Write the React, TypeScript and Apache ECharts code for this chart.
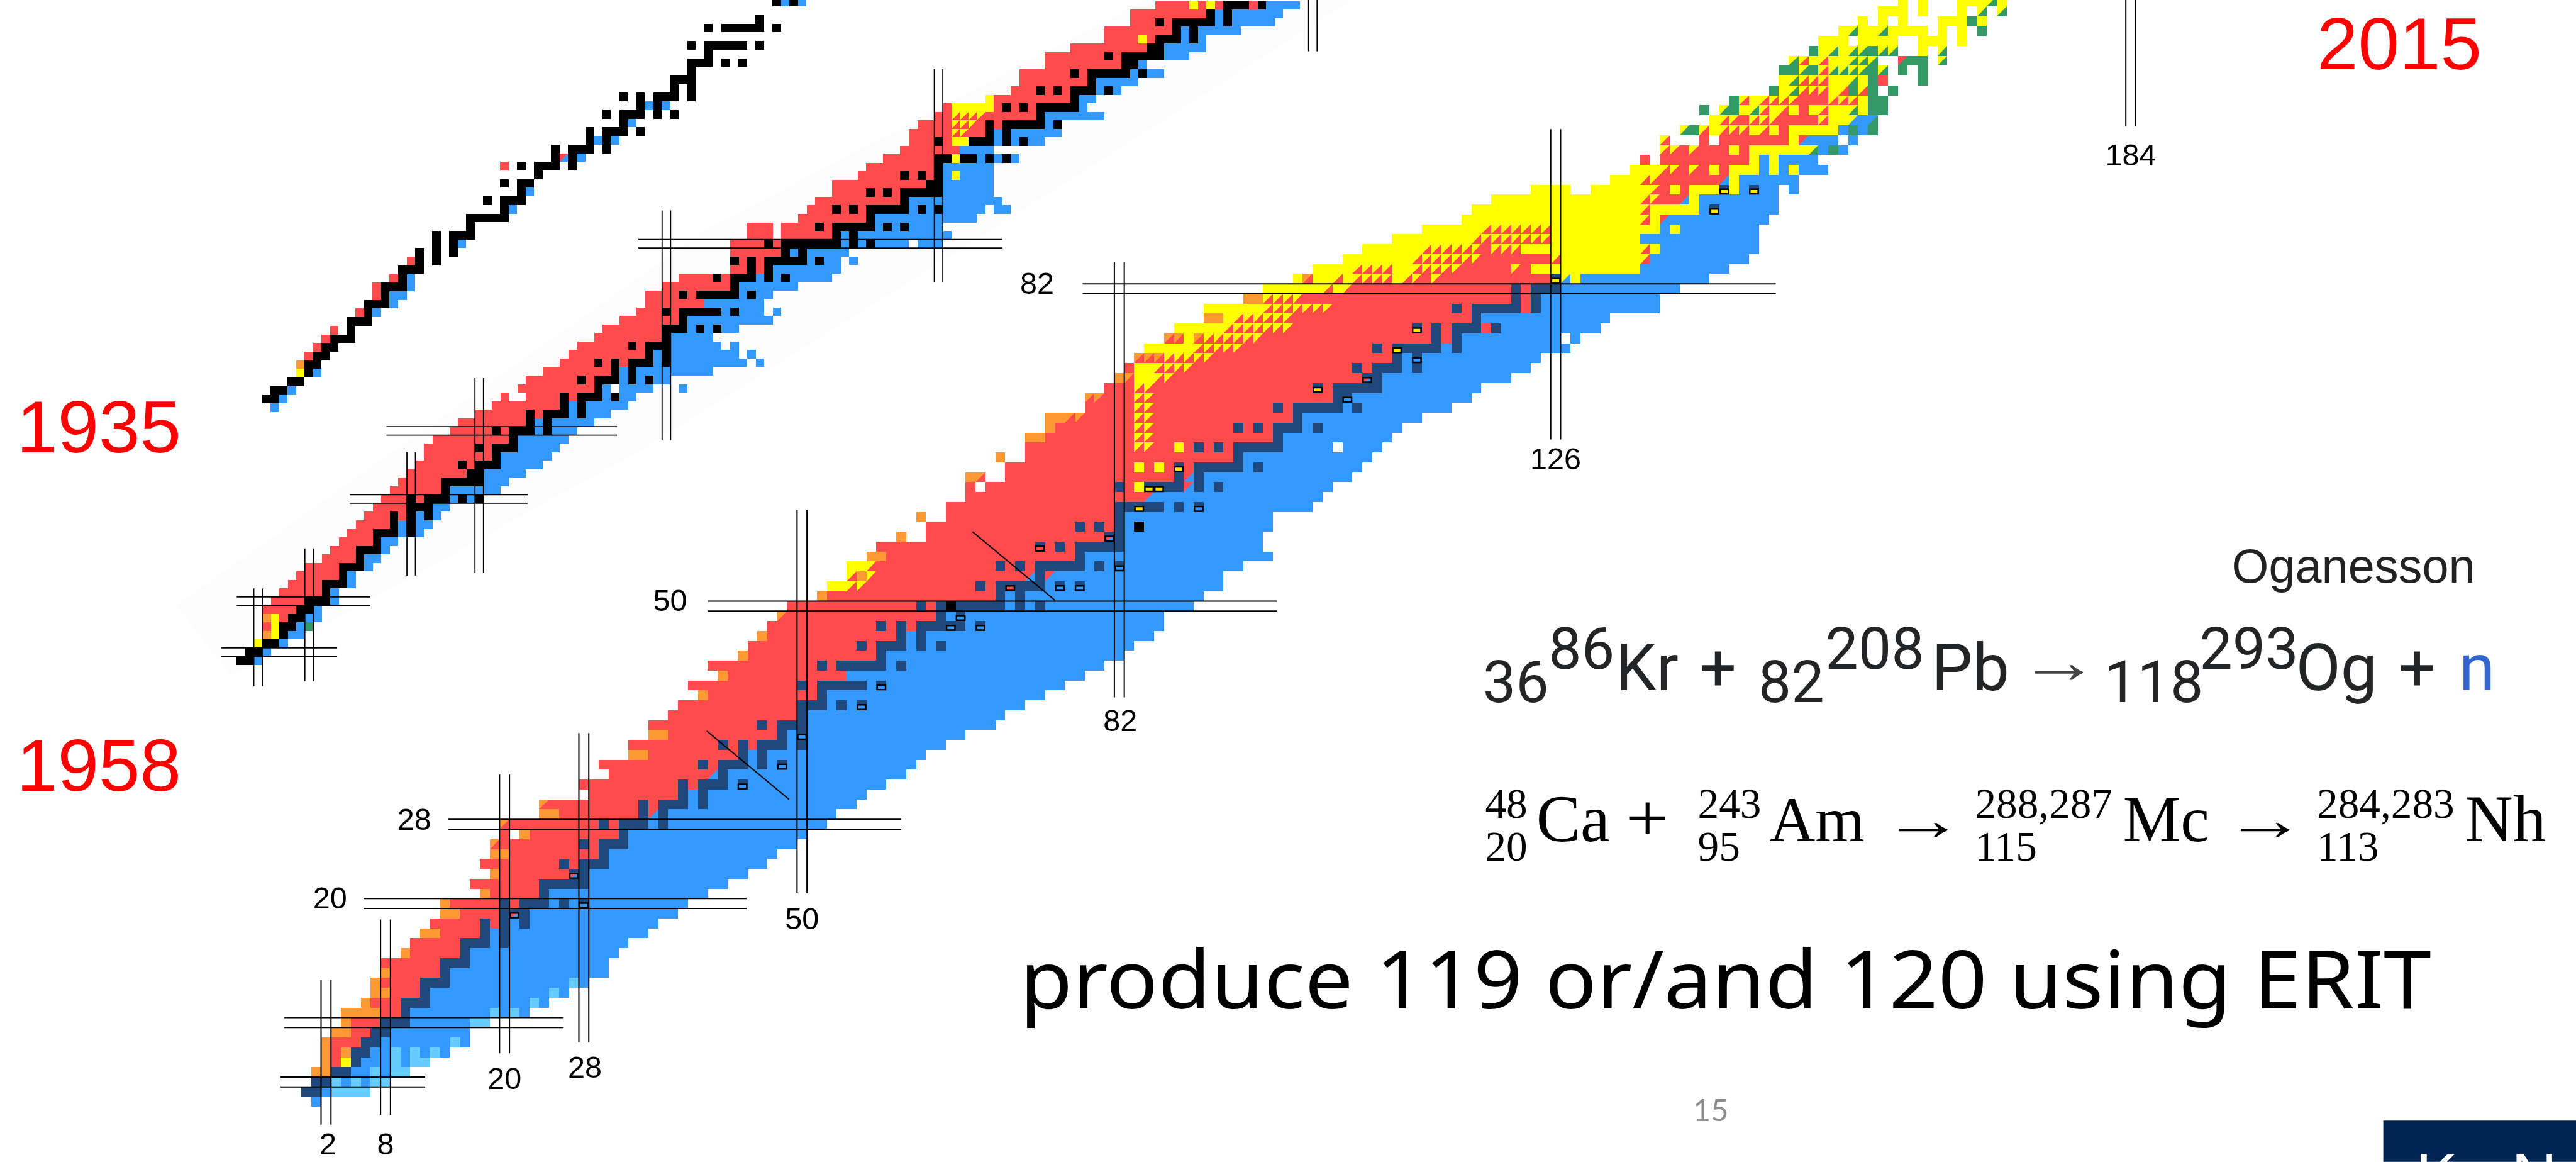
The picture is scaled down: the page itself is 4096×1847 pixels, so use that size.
import React, { useEffect, useRef } from "react";
import * as echarts from "echarts";

const W = 4096;
const H = 1847;
const S = 4096 / 4385;
const REF_W = 4385;
const REF_H = 1977;

// Colours of the nuclide classes
const COLORS: Record<string, string> = {
  r: "#FF4B4B", b: "#3399FF", d: "#1F497D", o: "#FF9933", y: "#FFFF00",
  l: "#66CCFF", g: "#339966", k: "#000000", x: "#FFE800",
};

// Chart of nuclides, Z rows as "<class><N from>-<N to>"; two letters = split cell
const rows2015: [number, string][] = [
  [0, "b1"], [1, "b2 l3-6"], [2, "l3 b4 l5 b6 l7-8"], [3, "o1-2 b5-6 l7 b8 l9-10"],
  [4, "o2 r3 y4 b6-8 l9 b10 l11-12"], [5, "o2 r3 o4 b7-8 l9 b10 l11 b12 l13 b14"],
  [6, "o2 r3-5 b8-14 l15 b16"], [7, "o3-4 r5-6 b9-16"], [8, "o4 r5-7 b11-16 l17-18"],
  [9, "o4-7 r8-9 b11-18 l19 b20 l21 b22"], [10, "o6 r7-9 b13-22 l23 b24"],
  [11, "o7-8 r9-11 b13-24 l25 b26"], [12, "o7 r8-11 b15-26 l27 b28"], [13, "o8 r9-13 b15-30"],
  [14, "r8-13 b17-30"], [15, "o10 r11-15 b17-31"], [16, "r11-15 b19 b21-32"],
  [17, "o12-13 r14-17 b19 b21-34"], [18, "r13-17 r19 b21 b23-35"], [19, "o14-15 r16-19 b23-37"],
  [20, "o14 r15-19 r21 b25 b27-38"], [21, "o18 r19-23 b25-40"], [22, "r17-23 b29-42"],
  [23, "o19 r20-26 b29-44"], [24, "r18-25 r27 b31-46"], [25, "o19-20 r21-29 b31-47"],
  [26, "or19 r20-27 r29 b33-49"], [27, "r20 o22 r23-31 b33-50"], [28, "or20 r21-29 r31 b35 b37-52"],
  [29, "o24-25 r26-33 rb35 b37-53"], [30, "or24 r25-33 r35 b39 b41-55"], [31, "r29-37 b39 b41-56"],
  [32, "r28-37 r39 b43 b45-58"], [33, "r31-40 rb41 b43-60"], [34, "r30-39 r41 b45 b47 b49-61"],
  [35, "o33-34 r35-43 b45 b47-62"], [36, "r33-41 r43 r45 b49 b51-64"], [37, "o35-36 r37-47 b49 b51-66"],
  [38, "r35-45 r47 b51-69"], [39, "r37-49 b51-70"], [40, "r38-49 b53 b55 b57-72"],
  [41, "o40 r41-51 b53-74"], [42, "r39-49 r51 b57 b59-76"], [43, "o42 r43-54 b55-78"],
  [44, "r41-51 r53 b59 b61-80"], [45, "o44 r45-57 b59-82"], [46, "r45-55 r57 b61 b63 b65-83"],
  [47, "o46 r47-59 b61 b63-85"], [48, "r47-57 r59 r61 b67 b69-86"], [49, "or48 r49-63 b65 b67-86"],
  [50, "r49-61 r63 b71 b73 b75-89"], [51, "o52 r53-69 b71 b73-90"],
  [52, "y53-54 yr55-56 r57-67 r69 b75 b77 b79-92"], [53, "yr55 o56 yr57 r58-72 rb73 rb75 b76-92"],
  [54, "y55-56 yr57 r58-69 r71 r73 b79 b81 b83-94"], [55, "o57-58 r59-77 b79-97"],
  [56, "r58-73 r75 r77 b83-96"], [57, "o60 r63-80 b83-96"], [58, "r63-77 r79 r81 b83-97"],
  [59, "o62 r65-81 b83-97"], [60, "r65-81 b87 b89 b91-101"], [61, "r67-84 rb85 b86-102"],
  [62, "r67 r69-81 r83 y84 rb89 b91 b93-103"], [63, "o67 or68 r71-87 rb89 b91-105"],
  [64, "r71-83 y84 r85 y86 r87 r89 b95 b97-106"], [65, "o70 r73-93 b95-107"],
  [66, "r73-83 yr84-85 r86-87 y88 r89 r91 r93 b99-103 b105-108"],
  [67, "o73-74 r75-83 yr84-85 r86-97 b99-109"], [68, "o75 r76-83 yr84-85 r86-93 r95 r97 b101 b103-110"],
  [69, "o75-76 or77-78 r79-83 yr84-85 r86-99 b101-112"], [70, "r79-83 yr84-85 r86-97 r99 b105 b107-115"],
  [71, "or79-80 r81-83 yr84-85 r86-103 b106-117"], [72, "r81-83 yr84-85 r86-101 r103 b109-118"],
  [73, "o82 or83 y84-85 yr86-87 r88-106 b109-121"], [74, "r83 y84-85 yr86-89 r90-105 r107 b111 b113-123"],
  [75, "or84-86 yr87-91 r92-109 b111 b113-124"], [76, "y85-89 yr90-94 r95-107 r109 b115 b117-127"],
  [77, "or87-88 y89 or90 yr91-96 r97-113 r115 b117-126 b128"],
  [78, "y88-92 yr93-99 r100-111 r113 r115 r119 b121-130"], [79, "o91-92 y93 yr94-99 r100-117 b119-131"],
  [80, "y91-96 yr97-103 r104-115 r117 r123 b125-136"], [81, "o95-96 yr97-100 r101-121 r123 b125-136"],
  [82, "y97-102 yr103 y104 yr105 r106-121 r123 b127-138"],
  [83, "y100 or101 y102-103 yr104 y105 yr106-109 y110 yr111-112 r113 yr114 r115-125 yb127 y128 b129-141"],
  [84, "y102-105 yr106-109 y110-111 yr112-116 r117-121 yr122 r123 y124-134 b135-143"],
  [85, "y105-111 yr112-118 r119-125 yr126 y127-134 yr135 b136-145"],
  [86, "y107-112 yr113-118 r119 yr120-122 y123-134 yr135 y136 b137-146"],
  [87, "y110-117 yr118-125 y126-134 b135-146"], [88, "y113-118 yr119-125 y126-136 b137 y138 b139-146"],
  [89, "y117-134 yr135 y136 rb137 b138-147"], [90, "y118-134 yr135 y136-140 b141-148"],
  [91, "y120-134 yr135-136 r137-138 rb139 y140 b141-148"],
  [92, "y124-127 y130-135 yr136 r137 y138 r139 y140-142 y144 b145 b147-148 b150"],
  [93, "y132-134 yr135-136 r137-142 rb143 y144 b145-150"],
  [94, "y134-136 yr137-138 r139 yr140 r141 y142 r143 y144-146 b147 y148 b149 y150 b151-153"],
  [95, "r135 r137-145 y146 b147 y148 b149-152"],
  [96, "yr137-138 r139 yr140 r141-143 y144 r145 y146-151 yg152 b153 g154 b155"],
  [97, "yr137 r141 r143-149 y150 rb151 b152-154 b156"],
  [98, "yg139 g140 yr141 y142 yr143-145 y146 yr147 y148 r149 y150-154 b155 g156 b157 g158"],
  [99, "y142 yr143-144 r145 yr146-148 r149-152 yr153 y154-155 yb156 b157 bg158"],
  [100, "g141 yg143 g144 y145 yg146 yr147 y148 yr149 y150 r151 y152 yr153 y154-155 yg156 y157 g158-159"],
  [101, "g144 yr145 y146 yr147-150 r151-153 yr154-156 y157 g158-159"],
  [102, "g148 y149 yg150 yr151-153 y154 yr155 g156 yr157 g158 g160"],
  [103, "y149 yg150 yr151-153 y154-155 yg156 y157 g158 r159 g163"],
  [104, "g149-150 yg151 g152 yr153 yg154-157 g158 yg159 g161 g163"],
  [105, "yg150 yr151 y152 yr153 y154-155 yg156-158 rg161 g162-163 yg165"],
  [106, "g152 y153 yg154 y155 yg156-157 g158 yg159-160 y163 yg165"],
  [107, "y153-155 y157-160 y163-165 y167"], [108, "y155 yg156 y157-158 yg159 y160-163 y165 y167 g169"],
  [109, "y157 y159 y161 y165-167 g168 y169"], [110, "y159-161 y163 y167 yg169 yg171"],
  [111, "y161 y163 y167-169 yg170 y171"],
];

// Stable nuclides: Z, neutron numbers
const stableRows: [number, number[]][] = [
  [1, [0, 1]], [2, [1, 2]], [3, [3, 4]], [4, [5]], [5, [5, 6]], [6, [6, 7]], [7, [7, 8]], [8, [8, 9, 10]],
  [9, [10]], [10, [10, 11, 12]], [11, [12]], [12, [12, 13, 14]], [13, [14]], [14, [14, 15, 16]], [15, [16]],
  [16, [16, 17, 18, 20]], [17, [18, 20]], [18, [18, 20, 22]], [19, [20, 21, 22]], [20, [20, 22, 23, 24, 26, 28]],
  [21, [24]], [22, [24, 25, 26, 27, 28]], [23, [27, 28]], [24, [26, 28, 29, 30]], [25, [30]], [26, [28, 30, 31, 32]],
  [27, [32]], [28, [30, 32, 33, 34, 36]], [29, [34, 36]], [30, [34, 36, 37, 38, 40]], [31, [38, 40]],
  [32, [38, 40, 41, 42, 44]], [33, [42]], [34, [40, 42, 43, 44, 46, 48]], [35, [44, 46]], [36, [42, 44, 46, 47, 48, 50]],
  [37, [48, 50]], [38, [46, 48, 49, 50]], [39, [50]], [40, [50, 51, 52, 54, 56]], [41, [52]],
  [42, [50, 52, 53, 54, 55, 56, 58]], [44, [52, 54, 55, 56, 57, 58, 60]], [45, [58]], [46, [56, 58, 59, 60, 62, 64]],
  [47, [60, 62]], [48, [58, 60, 62, 63, 64, 65, 66, 68]], [49, [64, 66]], [50, [62, 64, 65, 66, 67, 68, 69, 70, 72, 74]],
  [51, [70, 72]], [52, [68, 70, 71, 72, 73, 74, 76, 78]], [53, [74]], [54, [70, 72, 74, 75, 76, 77, 78, 80, 82]],
  [55, [78]], [56, [74, 76, 78, 79, 80, 81, 82]], [57, [81, 82]], [58, [78, 80, 82, 84]], [59, [82]],
  [60, [82, 83, 84, 85, 86, 88, 90]], [62, [82, 85, 86, 87, 88, 90, 92]], [63, [88, 90]], [64, [88, 90, 91, 92, 93, 94, 96]],
  [65, [94]], [66, [90, 92, 94, 95, 96, 97, 98]], [67, [98]], [68, [94, 96, 98, 99, 100, 102]], [69, [100]],
  [70, [98, 100, 101, 102, 103, 104, 106]], [71, [104, 105]], [72, [102, 104, 105, 106, 107, 108]], [73, [107, 108]],
  [74, [106, 108, 109, 110, 112]], [75, [110, 112]], [76, [108, 110, 111, 112, 113, 114, 116]], [77, [114, 116]],
  [78, [112, 114, 116, 117, 118, 120]], [79, [118]], [80, [116, 118, 119, 120, 121, 122, 124]], [81, [122, 124]],
  [82, [122, 124, 125, 126]], [83, [126]], [90, [142]], [92, [143, 146]],
];

const black2015: [number, string][] = [[50, "k65"], [58, "k84"]];

// Long-lived marked nuclides: N, Z, fill class
const boxes2015: [number, number, string][] = [
  [21, 19, "rb"], [28, 20, "b"], [27, 23, "rb"], [44, 32, "b"], [48, 34, "b"], [50, 37, "b"], [56, 40, "b"], [58, 42, "b"],
  [65, 48, "b"], [68, 48, "b"], [66, 49, "b"], [71, 52, "r"], [76, 52, "b"], [78, 52, "b"], [82, 54, "b"], [74, 56, "r"],
  [81, 57, "rb"], [84, 60, "x"], [90, 60, "b"], [85, 62, "x"], [86, 62, "x"], [88, 64, "x"], [105, 71, "b"], [102, 72, "x"],
  [107, 73, "rb"], [112, 75, "b"], [110, 76, "x"], [112, 78, "x"], [126, 83, "x"], [142, 90, "x"], [143, 92, "x"], [146, 92, "x"],
];

const rows1958: [number, string][] = [
  [1, "b2"], [2, "b3"], [3, "y2 b5"], [4, "o3 y4 b6-7"], [5, "r3 y4 b7 g8"], [6, "o3 y4 r5 b8-9"], [7, "r3-6 b9"], [8, "r4-7 b11"],
  [9, "r5-9 b11"], [10, "r6-9 b13"], [11, "r7-11 b13"], [12, "r8-11 b15"], [13, "r10-13 b15-16"], [14, "r11-13 b17"],
  [15, "r12-15 b17-18"], [16, "r13-15 b19 b21"], [17, "r14-17 b19 b21-22"], [18, "r15-17 r19 b21 b23"], [19, "r16-19 b23-24"],
  [20, "r17-19 r21 b25 b27-28"], [21, "r18-23 b25-30"], [22, "r19-23 b29-31"], [23, "r20-26 b29-33"], [24, "r21-25 r27 b31-35"],
  [25, "r22-29 b31-36"], [26, "r22-27 r29 b33-37"], [27, "r23-31 b33-38"], [28, "r25-29 r31 b35 b37-39"], [29, "r26-33 b35 b37-41"],
  [30, "r28-33 r35 b39 b41-43"], [31, "r30-37 b39 b41-45"], [32, "r31 r34-37 r39 b43 b45-46"], [33, "r33-41 b43 b45-48 b52"],
  [34, "r34-39 r41 b45 b47 b49-50"], [35, "r36-43 b45 b47-55"], [36, "r38-41 r43 r45 b49 b51-59 b61"], [37, "r39-47 b49 b51-58 b60"],
  [38, "r40-45 r47 b51-56 b58"], [39, "r42-49 b51-55"], [40, "r43-49 b53 b55 b57-58"], [41, "r45-51 b53-62"],
  [42, "r47-49 r51 b57 b59-61 b63"], [43, "r48-54 b55-61"], [44, "r48-51 r53 b59 b61-62"], [45, "r50-57 b59-65"],
  [46, "r52-55 r57 b61 b63 b65-69"], [47, "r58-59 r61 b63-70"], [48, "r59 r61 b67 b69-70 b72"], [49, "r58-63 b65 b67-71"],
  [50, "r58-61 r63 b71 b73 b75-78 b80-82"], [51, "r60-62 r64-69 b71 b73-83"], [52, "r60-62 r64-67 r69 b75 b77-82"],
  [53, "r66-73 b75-86"], [54, "r67-69 r71 r73 b79 b81 b83-87 b89-90"], [55, "r68-77 b79-89"], [56, "r70-73 r75 r77 b83-88"],
  [57, "r70-80 b83-88"], [58, "r73-77 r79 r81 b83 b85-88"], [59, "r74-81 b83-88"], [60, "r76-81 b87 b89 b91"], [61, "r78-84 b85-88"],
  [62, "r79-81 r83 b89 b91 b93-94"], [63, "r79-87 b89 b91-96"], [64, "r80-87 r89 b95"], [65, "r82-83 yr84-87 r88-93 b95-101"],
  [66, "r83 y84-88 r89 r91 r93 b99"], [67, "y88 r89-97 b99-100"], [68, "r91-93 r95 r97 b101 b103"], [69, "r92-99 b101-105"],
  [70, "r92-97 r99 b105 b107-108"], [71, "r95-103 b106"], [72, "r95-101 r103 b109-111"], [73, "r98-106 b109-113"],
  [74, "r102-105 r107 b111 b113"], [75, "r102-109 b111 b113-117"], [76, "r105-107 r109 b115 b117-121"], [77, "r105-113 b115 b117-122"],
  [78, "r108-111 r113 r115 r119 b121-124"],
];
const over1958: [number, string][] = [[58, "y84"], [60, "y84"], [62, "y84-85"], [63, "yr84-85"], [64, "yr84-86"], [74, "y106"], [78, "y112 y114"]];

const rows1935: [number, string][] = [
  [0, "b1"], [1, "k0-1 b2"], [2, "k1-2 b3"], [3, "k3-4"], [4, "y4 k5 b6"], [5, "o4 k5-6"], [6, "r5 k6-7"], [7, "r6 k7-8"], [8, "r7 k8-10"],
  [9, "r8 k10"], [10, "k10-12"], [11, "r11 k12 b13"], [12, "k12-14 b15"], [13, "r13 k14 b15-16"], [14, "r13 k14-16 b17"], [15, "r15 k16 b17"],
  [16, "k16-18"], [17, "r17 k18 k20"], [18, "k18 k20 k22"], [19, "k20 k22 b23"], [20, "k20 k22-24"], [21, "k24"], [22, "k24-28"],
  [23, "k28 b29"], [24, "k26 k28-30"], [25, "k30 b31"], [26, "k28 k30-31"], [27, "k32"], [28, "r28 k30 k32-34 k36"], [29, "k34 rb35 k36 b37"],
  [30, "k34 k36-38 k40"], [31, "k38 b39 k40 b41"], [32, "k38 k40-42 k44"], [33, "k42 b43"], [34, "k40 k42-44 k46 k48"], [35, "k44 b45 k46 b47"],
  [36, "k42 k44 k46-48 k50"], [37, "k48 k50"], [38, "k48-50"], [39, "k50"], [40, "k50-52 k54 k56"], [41, "k52"], [42, "k50 k52-56 k58"],
  [44, "k52 k54-58 k60"], [45, "k58"], [47, "k60 b61 k62 b63"],
];

// Magic-number guide lines: magic number, far ends along the other axis
const linesN2015: [number, number, number][] = [[2, -2.3, 12.3], [8, -1.3, 18.4], [20, 4.9, 33], [28, 6, 37.2], [50, 21.1, 59.7], [82, 40.8, 84.7], [126, 66.8, 98.1], [184, 98.4, 115]];
const linesZ2015: [number, number, number][] = [[2, -2.6, 12], [8, -2.2, 25.9], [20, 5.8, 44.4], [28, 14.3, 60], [50, 40.5, 97.9], [82, 78.3, 148.2]];
const diagonals2015: [number, number, number, number][] = [[40.4, 37.4, 48.7, 30.5], [67.2, 57.5, 75.5, 50.6]];
const linesN1958: [number, number, number][] = [[2, -2, 9.5], [8, -1.4, 14.2], [20, 11, 25.5], [28, 11.3, 34.2], [50, 26.9, 53.9], [82, 45.5, 70.5], [126, 72.6, 82]];
const linesZ1958: [number, number, number][] = [[2, -2.3, 11.3], [8, -0.5, 15.2], [20, 12.8, 33.7], [28, 17.1, 44.2], [50, 46.7, 89.5]];
const labels2015: [string, number, number][] = [
  ["2", 2.2, -4.25], ["8", 8, -4.25], ["20", 20, 2.4], ["28", 28.1, 3.5], ["50", 50, 18.5], ["82", 82.1, 38.5], ["126", 126, 64.9], ["184", 184, 95.5],
  ["28", 10.9, 28.5], ["20", 2.4, 20.6], ["50", 36.7, 50.6], ["82", 73.7, 82.6],
];
const band1958: [number, number][] = [[-7.6, 7.5], [-1.1, -0.8], [47.6, 26.1], [89.9, 52.7], [130.5, 78.6], [106.3, 78.6], [54.5, 51.5]];

type Run = [number, number, number, string];

function parseRows(rows: [number, string][]): Run[] {
  const out: Run[] = [];
  for (const [z, str] of rows) {
    for (const tok of str.split(" ")) {
      const m = /^([a-z]{1,2})(\d+)(?:-(\d+))?$/.exec(tok);
      if (!m) continue;
      const a = +m[2];
      const b = m[3] ? +m[3] : a;
      if (m[1].length === 2) {
        for (let n = a; n <= b; n++) out.push([n, n, z, m[1]]);
      } else {
        out.push([a, b, z, m[1]]);
      }
    }
  }
  return out;
}
function stableRuns(code: string, maxZ = 999): Run[] {
  const out: Run[] = [];
  for (const [z, ns] of stableRows) {
    if (z > maxZ) continue;
    for (const n of ns) out.push([n, n, z, code]);
  }
  return out;
}

function cellsSeries(grid: number, runs: Run[]) {
  return {
    type: "custom", xAxisIndex: grid, yAxisIndex: grid, silent: true, clip: true, progressive: 0,
    encode: { x: [0, 1], y: 2 },
    data: runs.map((r) => [r[0], r[1], r[2]]),
    renderItem: (params: any, api: any) => {
      const run = runs[params.dataIndex];
      const a = api.coord([run[0] - 0.5, run[2] + 0.5]);
      const b = api.coord([run[1] + 0.5, run[2] - 0.5]);
      const x0 = Math.round(a[0]), y0 = Math.round(a[1]), x1 = Math.round(b[0]), y1 = Math.round(b[1]);
      const code = run[3];
      if (code.length === 1) {
        return { type: "rect", shape: { x: x0, y: y0, width: x1 - x0, height: y1 - y0 }, style: { fill: COLORS[code] } };
      }
      return {
        type: "group",
        children: [
          { type: "rect", shape: { x: x0, y: y0, width: x1 - x0, height: y1 - y0 }, style: { fill: COLORS[code[1]] } },
          { type: "polygon", shape: { points: [[x0, y0], [x1, y0], [x0, y1]] }, style: { fill: COLORS[code[0]] } },
        ],
      };
    },
  };
}

function boxSeries(grid: number, boxes: [number, number, string][]) {
  return {
    type: "custom", xAxisIndex: grid, yAxisIndex: grid, silent: true, progressive: 0,
    encode: { x: 0, y: 1 },
    data: boxes.map((b) => [b[0], b[1]]),
    renderItem: (params: any, api: any) => {
      const [n, z, code] = boxes[params.dataIndex];
      const a = api.coord([n - 0.5, z + 0.12]);
      const b = api.coord([n + 0.5, z - 0.5]);
      const lw = 2.6 * S;
      const x0 = a[0] + lw / 2, y0 = a[1] + lw / 2, x1 = b[0] - lw / 2, y1 = b[1] - lw / 2;
      const children: any[] = [
        { type: "rect", shape: { x: x0, y: y0, width: x1 - x0, height: y1 - y0 }, style: { fill: COLORS[code[code.length - 1]] } },
      ];
      if (code.length === 2) {
        children.push({ type: "polygon", shape: { points: [[x0, y0], [x1, y0], [x0, y1]] }, style: { fill: COLORS[code[0]] } });
      }
      children.push({ type: "rect", shape: { x: x0, y: y0, width: x1 - x0, height: y1 - y0 }, style: { fill: "none", stroke: "#000", lineWidth: lw } });
      return { type: "group", children };
    },
  };
}

function segSeries(grid: number, segs: [number, number, number, number][], lw: number) {
  return {
    type: "custom", xAxisIndex: grid, yAxisIndex: grid, silent: true, progressive: 0, clip: false,
    encode: { x: [0, 2], y: [1, 3] },
    data: segs,
    renderItem: (params: any, api: any) => {
      const s = segs[params.dataIndex];
      const a = api.coord([s[0], s[1]]);
      const b = api.coord([s[2], s[3]]);
      return { type: "line", shape: { x1: a[0], y1: a[1], x2: b[0], y2: b[1] }, style: { stroke: "#000", lineWidth: lw } };
    },
  };
}

function magicSegs(ns: [number, number, number][], zs: [number, number, number][]) {
  const out: [number, number, number, number][] = [];
  for (const [m, lo, hi] of ns) {
    out.push([m - 0.5, lo, m - 0.5, hi], [m + 0.5, lo, m + 0.5, hi]);
  }
  for (const [m, lo, hi] of zs) {
    out.push([lo, m - 0.5, hi, m - 0.5], [lo, m + 0.5, hi, m + 0.5]);
  }
  return out;
}

function labelSeries(grid: number, labels: [string, number, number][]) {
  return {
    type: "custom", xAxisIndex: grid, yAxisIndex: grid, silent: true, progressive: 0,
    encode: { x: 0, y: 1 },
    data: labels.map((l) => [l[1], l[2]]),
    renderItem: (params: any, api: any) => {
      const l = labels[params.dataIndex];
      const p = api.coord([l[1], l[2]]);
      return {
        type: "text", x: p[0], y: p[1],
        style: { text: l[0], fill: "#000", font: `${52 * S}px 'Liberation Sans'`, textAlign: "center", textVerticalAlign: "middle", align: "center", verticalAlign: "middle" },
      };
    },
  };
}

function bandSeries(grid: number, pts: [number, number][]) {
  return {
    type: "custom", xAxisIndex: grid, yAxisIndex: grid, silent: true, progressive: 0,
    encode: { x: 0, y: 1 },
    data: pts.slice(0, 1),
    renderItem: (_p: any, api: any) => ({
      type: "polygon", shape: { points: pts.map((q) => api.coord(q)) }, style: { fill: "#FDFDFD" },
    }),
  };
}

const grid = { left: 0, top: 0, width: W, height: H, containLabel: false, show: false };
function axes(x0: number, dx: number, y0: number, dy: number) {
  return {
    x: { type: "value", show: false, gridIndex: 0, min: (0 - x0) / dx, max: (REF_W - x0) / dx, scale: true, splitLine: { show: false } },
    y: { type: "value", show: false, gridIndex: 0, min: (y0 - REF_H) / dy, max: y0 / dy, scale: true, splitLine: { show: false } },
  };
}

const FONT_MID: Record<string, number> = {
  "Liberation Sans": 0.3465, Roboto: 0.34, "Noto Sans": 0.388, Lato: 0.387, "Liberation Serif": 0.3375, "DejaVu Sans": 0.37,
};

function T(text: string, x: number, base: number, fs: number, family: string, fill = "#000", scaleX = 1) {
  return {
    type: "text", x: x * S, y: (base - FONT_MID[family] * fs) * S, scaleX, z: 50,
    style: { text, fill, font: `400 ${fs * S}px '${family}'`, textAlign: "left", textVerticalAlign: "middle", align: "left", verticalAlign: "middle" },
  };
}

const INK = "#222426";
const graphics = [
  T("1935", 28, 769, 126, "Liberation Sans", "#FF0000"),
  T("1958", 28, 1345, 126, "Liberation Sans", "#FF0000"),
  T("2015", 3944, 117, 126, "Liberation Sans", "#FF0000"),
  T("Oganesson", 3799, 992, 81, "Liberation Sans", "#222"),
  T("36", 2524, 1195, 100, "Roboto", INK),
  T("86", 2636, 1138, 100, "Roboto", INK),
  T("Kr", 2750, 1174, 111, "Roboto", INK),
  T("+", 2893, 1174, 111, "Roboto", INK),
  T("82", 2993, 1195, 100, "Roboto", INK),
  T("208", 3107, 1138, 100, "Roboto", INK),
  T("Pb", 3288, 1174, 111, "Roboto", INK),
  T("→", 3436, 1162, 106, "Liberation Serif", "#444", 1.3),
  T("118", 3582, 1195, 100, "Roboto", INK),
  T("293", 3744, 1138, 100, "Roboto", INK),
  T("Og", 3908, 1174, 111, "Roboto", INK),
  T("+", 4083, 1174, 111, "Roboto", INK),
  T("n", 4186, 1174, 111, "Roboto", "#3366CC"),
  T("48", 2528, 1392, 72, "Liberation Serif"),
  T("20", 2528, 1465, 72, "Liberation Serif"),
  T("Ca", 2615, 1431, 113, "Liberation Serif"),
  T("+", 2768, 1431, 113, "Liberation Serif", "#000", 1.15),
  T("243", 2890, 1392, 72, "Liberation Serif"),
  T("95", 2890, 1465, 72, "Liberation Serif"),
  T("Am", 3012, 1431, 108, "Liberation Serif"),
  T("→", 3204, 1429, 100, "Liberation Serif", "#000", 1.4),
  T("288,287", 3362, 1392, 72, "Liberation Serif"),
  T("115", 3362, 1465, 72, "Liberation Serif"),
  T("Mc", 3614, 1431, 110, "Liberation Serif"),
  T("→", 3786, 1429, 100, "Liberation Serif", "#000", 1.4),
  T("284,283", 3944, 1392, 72, "Liberation Serif"),
  T("113", 3944, 1465, 72, "Liberation Serif"),
  T("Nh", 4196, 1431, 113, "Liberation Serif"),
  T("produce 119 or/and 120 using ERIT", 1736, 1716, 137, "Noto Sans", "#000", 1.065),
  T("15", 2882, 1908, 52, "Lato", "#8C8C8C"),
  { type: "rect", z: 40, shape: { x: 4057 * S, y: 1907 * S, width: 328 * S, height: 70 * S }, style: { fill: "#002554" } },
  T("K", 4112, 2037, 108, "Liberation Sans", "#FFF"),
  T("N", 4275, 2037, 108, "Liberation Sans", "#FFF"),
];

const main = axes(521.2, 16.88, 1874.7, 16.87);
const mid = axes(410.3, 14.48, 1138.6, 14.48);
const top = axes(453.2, 14.48, 693.7, 14.68);

const option: any = {
  animation: false,
  backgroundColor: "#fff",
  grid: [grid, grid, grid],
  xAxis: [main.x, { ...mid.x, gridIndex: 1 }, { ...top.x, gridIndex: 2 }],
  yAxis: [main.y, { ...mid.y, gridIndex: 1 }, { ...top.y, gridIndex: 2 }],
  graphic: { elements: graphics },
  series: [
    bandSeries(1, band1958),
    cellsSeries(2, parseRows(rows1935)),
    cellsSeries(1, parseRows(rows1958)),
    cellsSeries(1, stableRuns("k", 78)),
    cellsSeries(1, parseRows(over1958)),
    segSeries(1, magicSegs(linesN1958, linesZ1958), 1.9 * S),
    cellsSeries(0, parseRows(rows2015)),
    cellsSeries(0, stableRuns("d")),
    cellsSeries(0, parseRows(black2015)),
    boxSeries(0, boxes2015),
    segSeries(0, [...magicSegs(linesN2015, linesZ2015), ...diagonals2015], 2.2 * S),
    labelSeries(0, labels2015),
  ],
};

export default function App() {
  const ref = useRef<HTMLDivElement>(null);
  useEffect(() => {
    document.body.style.margin = "0";
    const chart = echarts.init(ref.current!, undefined, { renderer: "svg", width: W, height: H });
    chart.setOption(option);
    return () => chart.dispose();
  }, []);
  return <div ref={ref} style={{ width: W, height: H, overflow: "hidden", background: "#fff" }} />;
}
